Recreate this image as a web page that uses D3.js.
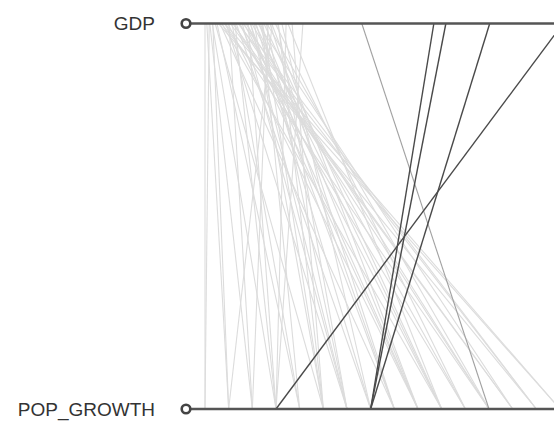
<!DOCTYPE html>
<html>
<head>
<meta charset="utf-8">
<script src="https://cdn.jsdelivr.net/npm/d3@7"></script>
<style>
  html, body { margin: 0; padding: 0; background: #fff; }
  svg { display: block; }
</style>
</head>
<body>
<div id="chart"></div>
<script>
// dimension names, top to bottom
const dimensions = ['GDP', 'POP_GROWTH'];

// one entry per record (GDP in k$, population growth in %)
const gdp = [
  0.4, 0.7, 1.2, 1.6, 2.1, 2.6, 2.9, 3.2, 3.6, 3.9,
  4.2, 4.6, 4.9, 5.2, 5.6, 5.9, 6.2, 6.6, 6.9, 7.2,
  7.6, 7.9, 8.2, 8.6, 8.9, 9.2, 9.6, 9.9, 10.2, 10.6,
  10.9, 11.2, 11.6, 12.1, 12.6, 13.2, 13.9, 14.9, 16.7,
  1.1, 1.7, 2.4, 3.1, 3.7, 4.4, 5.0, 5.4, 6.1, 6.7,
  7.4, 8.0, 8.7, 9.4, 10.0, 10.7, 11.5, 12.5, 14.2,
  26.5, 38.5, 40.5, 47.8, 60.0
];
const popGrowth = [
  -0.75, -0.5, -0.25, 0.0, 0.5, 3.0, 1.25, 1.75, 2.25, 0.75,
  1.5, 2.5, 0.25, 2.0, 1.0, 2.75, 1.5, 0.75, 1.75, 2.25,
  0.0, 1.25, 2.0, 0.5, 1.0, 2.5, 1.5, 0.25, 1.75, 0.75,
  -0.25, 1.25, -0.5, 2.0, 0.5, 1.0, 0.0, 0.5, 0.0,
  -0.75, -0.5, 0.25, 2.75, 3.0, -0.25, 2.5, 0.0, 2.25, 2.75,
  1.5, 0.75, 1.75, 1.25, 0.5, 2.25, 1.5, 0.75, 1.75,
  2.25, 1.0, 1.0, 1.0, 0.0
];

const width = 554, height = 421;
const axisY = { GDP: 23.5, POP_GROWTH: 409 };
const handleX = 186;
const labelX = 155;

const svg = d3.select('#chart')
  .append('svg')
  .attr('width', width)
  .attr('height', height);

// scales (plot runs off the right edge, as in the original)
const x = {
  GDP: d3.scaleLinear().domain(d3.extent(gdp)).range([205, 563]),
  POP_GROWTH: d3.scaleLinear().domain(d3.extent(popGrowth)).range([205, 560])
};

const color = d3.scaleLinear()
  .domain([20, 36])
  .range(['#dcdcdc', '#4a4a4a'])
  .clamp(true);

const rows = gdp.map((g, i) => ({ GDP: g, POP_GROWTH: popGrowth[i] }))
  .sort((a, b) => a.GDP - b.GDP);

// record lines
svg.append('g')
  .selectAll('line')
  .data(rows)
  .enter()
  .append('line')
  .attr('x1', d => x.GDP(d.GDP))
  .attr('y1', axisY.GDP)
  .attr('x2', d => x.POP_GROWTH(d.POP_GROWTH))
  .attr('y2', axisY.POP_GROWTH)
  .style('stroke', d => color(d.GDP))
  .style('stroke-width', d => d.GDP > 30 ? 1.4 : 1.1)
  .style('fill', 'none');

// axes
const axes = svg.append('g')
  .selectAll('g')
  .data(dimensions)
  .enter()
  .append('g')
  .attr('transform', d => `translate(0,${axisY[d]})`);

axes.append('line')
  .attr('x1', handleX)
  .attr('x2', 620)
  .style('stroke', '#555')
  .style('stroke-width', 2.6);

axes.append('circle')
  .attr('cx', handleX)
  .attr('r', 4.3)
  .style('fill', '#fff')
  .style('stroke', '#444')
  .style('stroke-width', 2.6);

axes.append('text')
  .attr('x', labelX)
  .attr('dy', '0.35em')
  .attr('text-anchor', 'end')
  .style('font-family', 'Arial, "Liberation Sans", sans-serif')
  .style('font-size', '19px')
  .style('fill', '#333')
  .text(d => d);
</script>
</body>
</html>
